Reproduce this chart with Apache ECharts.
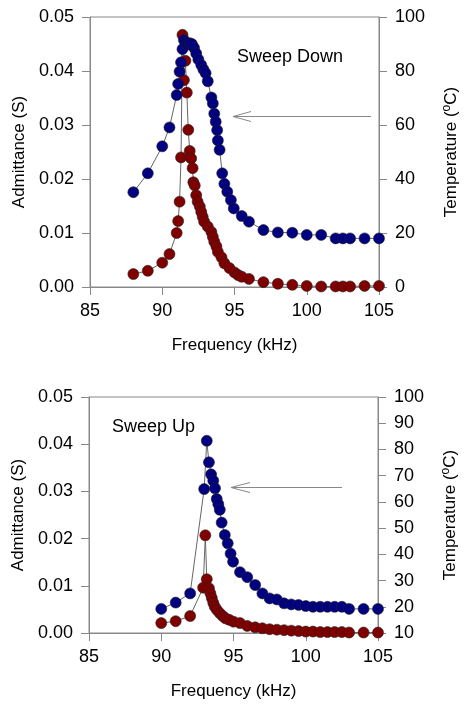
<!DOCTYPE html>
<html><head><meta charset="utf-8">
<script src="https://cdn.jsdelivr.net/npm/echarts@6/dist/echarts.min.js"></script>
<style>html,body{margin:0;padding:0;background:#fff}#c{width:464px;height:704px}</style>
</head><body><div id="c"></div>
<script>
// ---- Sweep Down (top) ----
const downFreqAdm = [88.0, 89.0, 90.0, 90.5, 91.0, 91.1, 91.2, 91.3, 91.4, 91.5, 91.6, 91.7, 91.8, 91.9, 92.0, 92.1, 92.15, 92.25, 92.35, 92.45, 92.6, 92.7, 92.8, 92.9, 93.15, 93.4, 93.5, 93.6, 93.75, 93.85, 94.1, 94.3, 94.65, 95.0, 95.25, 95.5, 96.0, 97, 98, 99, 100, 101, 102, 102.5, 103, 104, 105];
const downAdm = [0.0024, 0.0030, 0.0045, 0.0061, 0.0100, 0.0122, 0.0158, 0.0240, 0.0467, 0.0383, 0.0419, 0.0360, 0.0291, 0.0252, 0.0238, 0.0220, 0.0194, 0.0188, 0.0170, 0.0158, 0.0149, 0.0139, 0.0130, 0.0121, 0.0112, 0.0102, 0.0093, 0.0084, 0.0075, 0.0065, 0.0055, 0.0044, 0.0035, 0.0027, 0.0022, 0.0019, 0.0015, 0.0009, 0.0006, 0.0004, 0.0002, 0.0001, 0.0001, 0.0001, 0.0001, 0.0002, 0.0002];
const downFreqTemp = [88.0, 89.0, 90.0, 90.5, 91.0, 91.1, 91.2, 91.3, 91.4, 91.5, 91.6, 91.75, 91.9, 92.05, 92.2, 92.35, 92.5, 92.7, 92.85, 93.0, 93.15, 93.4, 93.5, 93.6, 93.7, 93.8, 93.85, 93.97, 94.15, 94.3, 94.5, 94.75, 94.95, 95.5, 96, 97, 98, 99, 100, 101, 102, 102.5, 103, 104, 105];
const downTemp = [35.1, 42.1, 52.1, 59.1, 71.1, 75.2, 79.8, 83.2, 88.1, 91.5, 90.5, 89.8, 90.3, 90.0, 88.6, 86.5, 84.3, 82.2, 80.6, 79.2, 76.2, 70.2, 68.0, 64.2, 61.2, 58.1, 54.3, 50.8, 42.1, 38.2, 35.3, 32.2, 29.1, 26.3, 24.2, 21.1, 20.2, 20.1, 19.3, 19.3, 18.0, 18.0, 18.0, 18.0, 18.0];

// ---- Sweep Up (bottom) ----
const upFreqAdm = [90.0, 91.0, 92.0, 92.9, 93.05, 93.15, 93.3, 93.4, 93.5, 93.6, 93.7, 93.85, 94.05, 94.25, 94.45, 94.7, 95.0, 95.45, 95.95, 96.5, 97.0, 97.5, 98.0, 98.5, 99.0, 99.5, 100.0, 100.5, 101.0, 101.5, 102.0, 102.5, 103.0, 104.0, 105.0];
const upAdm = [0.0021, 0.0025, 0.0036, 0.0096, 0.0207, 0.0114, 0.0095, 0.0084, 0.0074, 0.0064, 0.0056, 0.0049, 0.0042, 0.0036, 0.0031, 0.0028, 0.0024, 0.0021, 0.0015, 0.0012, 0.0010, 0.0008, 0.0007, 0.0006, 0.0005, 0.0004, 0.0003, 0.0003, 0.0002, 0.0002, 0.0002, 0.0002, 0.0001, 0.0001, 0.0001];
const upFreqTemp = [90.0, 91.0, 92.0, 92.97, 93.15, 93.3, 93.45, 93.6, 93.72, 93.84, 93.95, 94.05, 94.18, 94.4, 94.6, 94.8, 94.97, 95.45, 95.95, 96.5, 97.0, 97.5, 98.0, 98.5, 99.0, 99.5, 100.0, 100.5, 101.0, 101.5, 102.0, 102.5, 103.0, 104.0, 105.0];
const upTemp = [19.2, 21.6, 25.1, 64.9, 83.3, 75.1, 70.5, 68.1, 65.2, 61.1, 59.1, 57.0, 52.1, 47.4, 44.2, 40.3, 37.2, 33.2, 31.3, 28.3, 25.1, 23.2, 22.8, 21.3, 20.9, 20.7, 20.3, 20.0, 20.0, 20.0, 20.0, 20.0, 19.2, 19.2, 19.2];

const xTicks = {min: 85, max: 105, interval: 5};
const admTicks = {min: 0, max: 0.05, interval: 0.01};
const tempTicksDown = {min: 0, max: 100, interval: 20};
const tempTicksUp = {min: 10, max: 100, interval: 10};

const FONT = '"Liberation Sans", Arial, sans-serif';
const FS = 18;   // tick labels, annotations
const NFS = 17;  // axis names
const GRAY = '#888';

function zip(a, b) { return a.map((v, i) => [v, b[i]]); }

const chart = echarts.init(document.getElementById('c'), null, {renderer: 'canvas'});

function xAxis(gi) {
  return {
    gridIndex: gi, type: 'value', min: xTicks.min, max: xTicks.max, interval: xTicks.interval,
    name: 'Frequency (kHz)', nameLocation: 'middle', nameGap: 50,
    nameTextStyle: {fontSize: NFS, color: '#000', fontFamily: FONT},
    axisLine: {lineStyle: {color: GRAY}}, axisTick: {length: 8, lineStyle: {color: GRAY}},
    axisLabel: {margin: 15, fontSize: FS, color: '#000', fontFamily: FONT},
    splitLine: {show: false}
  };
}
function admAxis(gi) {
  return {
    gridIndex: gi, type: 'value', position: 'left', min: admTicks.min, max: admTicks.max, interval: admTicks.interval,
    name: 'Admittance (S)', nameLocation: 'middle', nameGap: 60,
    nameTextStyle: {fontSize: NFS, color: '#000', fontFamily: FONT},
    axisLine: {show: true, lineStyle: {color: GRAY}}, axisTick: {show: true, length: 8, lineStyle: {color: GRAY}},
    axisLabel: {margin: 16, fontSize: FS, color: '#000', fontFamily: FONT, formatter: v => v.toFixed(2)},
    splitLine: {show: false}
  };
}
function tempAxis(gi, t) {
  return {
    gridIndex: gi, type: 'value', position: 'right', min: t.min, max: t.max, interval: t.interval,
    name: '{t|Temperature (}{s|o}{t|C)}', nameLocation: 'middle', nameGap: 62,
    nameTextStyle: {
      fontSize: NFS, color: '#000', fontFamily: FONT,
      rich: {
        t: {fontSize: NFS, color: '#000', fontFamily: FONT, lineHeight: 21},
        s: {fontSize: 12, color: '#000', fontFamily: FONT, lineHeight: 13, verticalAlign: 'top'}
      }
    },
    axisLine: {show: true, lineStyle: {color: GRAY}}, axisTick: {show: true, length: 8, lineStyle: {color: GRAY}},
    axisLabel: {margin: 16, fontSize: FS, color: '#000', fontFamily: FONT},
    splitLine: {show: false}
  };
}
function series(name, xi, yi, data, color, z) {
  return {
    name, type: 'line', xAxisIndex: xi, yAxisIndex: yi, data,
    symbol: 'circle', symbolSize: 11, showSymbol: true, z,
    itemStyle: {color, borderColor: '#222', borderWidth: 0.6},
    lineStyle: {color: '#666', width: 1},
    emphasis: {disabled: true}
  };
}

const BLUE = '#000080', RED = '#800000';

chart.setOption({
  animation: false,
  backgroundColor: '#fff',
  grid: [
    {left: 90, right: 85, top: 17, bottom: 417, show: true, borderColor: GRAY, borderWidth: 1, backgroundColor: 'transparent', containLabel: false, outerBoundsMode: 'none'},
    {left: 89, right: 86, top: 397, bottom: 71, show: true, borderColor: GRAY, borderWidth: 1, backgroundColor: 'transparent', containLabel: false, outerBoundsMode: 'none'}
  ],
  xAxis: [xAxis(0), xAxis(1)],
  yAxis: [admAxis(0), tempAxis(0, tempTicksDown), admAxis(1), tempAxis(1, tempTicksUp)],
  series: [
    series('Admittance down', 0, 0, zip(downFreqAdm, downAdm), RED, 2),
    series('Temperature down', 0, 1, zip(downFreqTemp, downTemp), BLUE, 3),
    series('Admittance up', 1, 2, zip(upFreqAdm, upAdm), RED, 2),
    series('Temperature up', 1, 3, zip(upFreqTemp, upTemp), BLUE, 3)
  ],
  graphic: [
    {type: 'text', left: 237, top: 48, style: {text: 'Sweep Down', fontSize: FS, fontFamily: FONT, fill: '#000'}},
    {type: 'text', left: 112, top: 418, style: {text: 'Sweep Up', fontSize: FS, fontFamily: FONT, fill: '#000'}},
    {type: 'polyline', shape: {points: [[371, 116.5], [233, 116.5]]}, style: {stroke: GRAY, lineWidth: 1, fill: null}},
    {type: 'polyline', shape: {points: [[251, 111.5], [233, 116.5], [251, 121.5]]}, style: {stroke: GRAY, lineWidth: 1, fill: null}},
    {type: 'polyline', shape: {points: [[342, 487.5], [231, 487.5]]}, style: {stroke: GRAY, lineWidth: 1, fill: null}},
    {type: 'polyline', shape: {points: [[250, 482.5], [231, 487.5], [250, 492.5]]}, style: {stroke: GRAY, lineWidth: 1, fill: null}}
  ]
});
</script></body></html>
